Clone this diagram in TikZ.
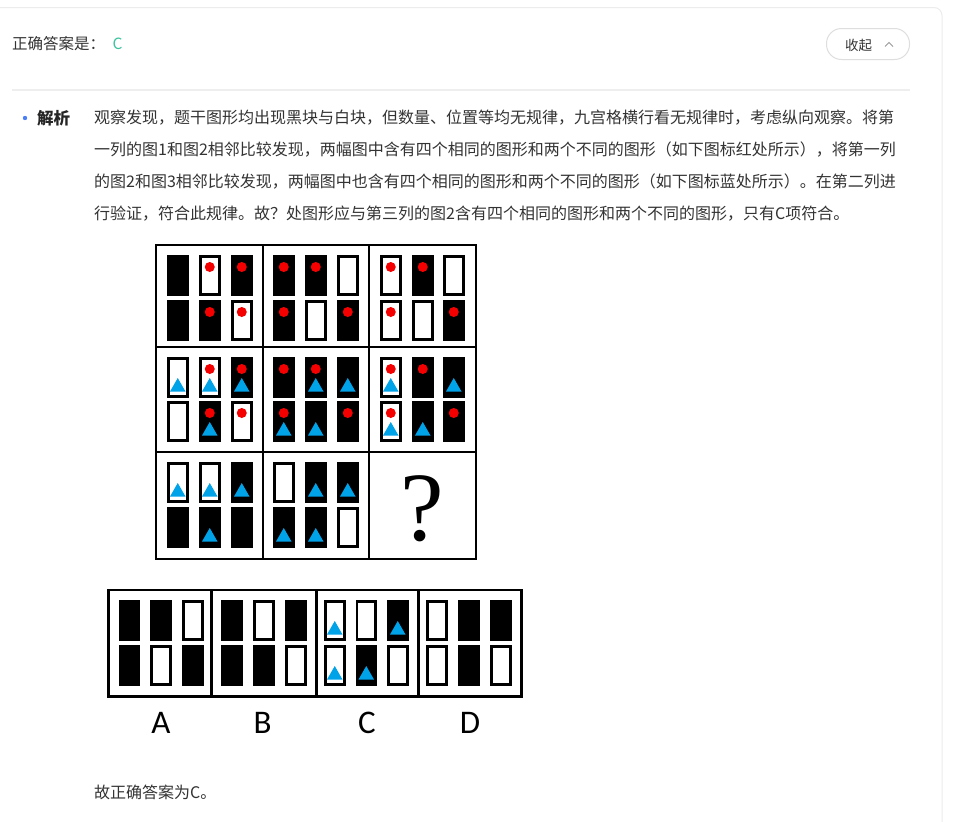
\documentclass[tikz,border=0pt]{standalone}
\usepackage{fontspec}
\newfontfamily\cjk{Noto Sans CJK SC}
\newfontfamily\calfont{Carlito}
\newfontfamily\qfont{Liberation Serif}
\definecolor{txt}{HTML}{333333}
\definecolor{ansgreen}{HTML}{3CC39E}
\definecolor{bulletblue}{HTML}{4B7FF5}
\definecolor{triblue}{HTML}{00A2E8}
\definecolor{dotred}{HTML}{F50000}
\definecolor{cardgray}{HTML}{ECECEC}
\definecolor{sepgray}{HTML}{EEEEEE}
\definecolor{pillgray}{HTML}{DEDEDE}
\makeatletter
\def\sp@read#1{\ifx\relax#1\else\hskip0pt plus 1fil\relax#1\expandafter\sp@read\fi}
\def\sp@readfirst#1{#1\sp@read}
\newcommand\jline[2]{\hbox to #1{\sp@readfirst#2\relax}}
\makeatother
\newcommand\bkr[2]{\fill[bkbox] (#1,#2) rectangle ++(21.5,40.5);}
\newcommand\wtr[2]{\draw[wtbox] (#1+1.3,#2+1.3) rectangle ++(18.9,37.9);}
\newcommand\rdot[2]{\fill[reddot] (#1+10.75,#2+12) circle (5pt);}
\newcommand\btri[2]{\fill[bluetri] (#1+3,#2+34.5) -- ++(15.5,0) -- ++(-7.75,-13.5) -- cycle;}
\begin{document}
\begin{tikzpicture}[x=1pt,y=-1pt,
  bkbox/.style={fill=black},
  wtbox/.style={draw=black,line width=2.6pt,fill=white},
  reddot/.style={fill=dotred},
  bluetri/.style={fill=triblue},
  gridline/.style={line width=2.8pt,line cap=rect},
  body/.style={anchor=west,inner sep=0pt,text=txt,font=\cjk\fontsize{16}{16}\selectfont},
  label/.style={anchor=base,inner sep=0pt,font=\calfont\fontsize{33}{33}\selectfont}]
\useasboundingbox[fill=white] (0,0) rectangle (956,822);
% card outline
\draw[cardgray,line width=1pt,rounded corners=8pt] (0,7.5) -- (942,7.5) -- (942,822);
% header
\node[anchor=west,inner sep=0pt,text=txt,font=\cjk\fontsize{15.5}{15.5}\selectfont] (hdr) at (12,44) {正确答案是：};
\node[anchor=west,inner sep=0pt,text=ansgreen,font=\cjk\fontsize{15.5}{15.5}\selectfont] (ans) at (112.5,44) {C};
\draw[pillgray,line width=1pt,rounded corners=15pt] (826.5,28.5) rectangle (909.5,59.5);
\node[inner sep=0pt,text=txt,font=\cjk\fontsize{13.5}{13.5}\selectfont] (btn) at (858.5,45) {收起};
\draw[gray!80,line width=0.9pt] (885,46.5) -- (889,42.5) -- (893,46.5);
\draw[sepgray,line width=2pt] (12,90) -- (910,90);
% analysis text
\fill[bulletblue] (25,118) circle (2.2pt);
\node[anchor=west,inner sep=0pt,text=black!85,font=\cjk\fontsize{16.5}{16.5}\selectfont\bfseries] (jx) at (37,118) {解析};
\node[body] (l1) at (94,118) {\jline{799pt}{观察发现，题干图形均出现黑块与白块，但数量、位置等均无规律，九宫格横行看无规律时，考虑纵向观察。将第}};
\node[body] (l2) at (94,150) {\jline{799pt}{一列的图1和图2相邻比较发现，两幅图中含有四个相同的图形和两个不同的图形（如下图标红处所示），将第一列}};
\node[body] (l3) at (94,182) {\jline{799pt}{的图2和图3相邻比较发现，两幅图中也含有四个相同的图形和两个不同的图形（如下图标蓝处所示）。在第二列进}};
\node[body] (l4) at (94,214) {行验证，符合此规律。故？处图形应与第三列的图2含有四个相同的图形和两个不同的图形，只有C项符合。};
\node[body] (fin) at (94,792) {故正确答案为C。};
% ===== 3x3 grid =====
% row 1
\bkr{167}{255}
\wtr{199}{255}\rdot{199}{255}
\bkr{231}{255}\rdot{231}{255}
\bkr{167}{300}
\bkr{199}{300}\rdot{199}{300}
\wtr{231}{300}\rdot{231}{300}
\bkr{273}{255}\rdot{273}{255}
\bkr{305}{255}\rdot{305}{255}
\wtr{337}{255}
\bkr{273}{300}\rdot{273}{300}
\wtr{305}{300}
\bkr{337}{300}\rdot{337}{300}
\wtr{380}{255}\rdot{380}{255}
\bkr{412}{255}\rdot{412}{255}
\wtr{443}{255}
\wtr{380}{300}\rdot{380}{300}
\wtr{412}{300}
\bkr{443}{300}\rdot{443}{300}
% row 2
\wtr{167}{357}\btri{167}{357}
\wtr{199}{357}\rdot{199}{357}\btri{199}{357}
\bkr{231}{357}\rdot{231}{357}\btri{231}{357}
\wtr{167}{401}
\bkr{199}{401}\rdot{199}{401}\btri{199}{401}
\wtr{231}{401}\rdot{231}{401}
\bkr{273}{357}\rdot{273}{357}
\bkr{305}{357}\rdot{305}{357}\btri{305}{357}
\bkr{337}{357}\btri{337}{357}
\bkr{273}{401}\rdot{273}{401}\btri{273}{401}
\bkr{305}{401}\btri{305}{401}
\bkr{337}{401}\rdot{337}{401}
\wtr{380}{357}\rdot{380}{357}\btri{380}{357}
\bkr{412}{357}\rdot{412}{357}
\bkr{443}{357}\btri{443}{357}
\wtr{380}{401}\rdot{380}{401}\btri{380}{401}
\bkr{412}{401}\btri{412}{401}
\bkr{443}{401}\rdot{443}{401}
% row 3
\wtr{167}{462}\btri{167}{462}
\wtr{199}{462}\btri{199}{462}
\bkr{231}{462}\btri{231}{462}
\bkr{167}{507}
\bkr{199}{507}\btri{199}{507}
\bkr{231}{507}
\wtr{273}{462}
\bkr{305}{462}\btri{305}{462}
\bkr{337}{462}\btri{337}{462}
\bkr{273}{507}\btri{273}{507}
\bkr{305}{507}\btri{305}{507}
\wtr{337}{507}
\node[anchor=base,inner sep=0pt,font=\qfont\fontsize{98}{98}\selectfont] (q) at (422.5,540) {?};
\draw[gridline] (156,245) rectangle (476,559);
\draw[gridline] (263,245) -- (263,559) (369,245) -- (369,559)
                (156,347) -- (476,347) (156,452) -- (476,452);
% ===== options =====
\bkr{118.5}{600} \bkr{150}{600} \wtr{182}{600}
\bkr{118.5}{645} \wtr{150}{645} \bkr{182}{645}
\bkr{221}{600} \wtr{253}{600} \bkr{285}{600}
\bkr{221}{645} \bkr{253}{645} \wtr{285}{645}
\wtr{324}{600}\btri{324}{600} \wtr{355.5}{600} \bkr{387}{600}\btri{387}{600}
\wtr{324}{645}\btri{324}{645} \bkr{355.5}{645}\btri{355.5}{645} \wtr{387}{645}
\wtr{426}{600} \bkr{458}{600} \bkr{490}{600}
\wtr{426}{645} \bkr{458}{645} \wtr{490}{645}
\draw[gridline] (108.5,590) rectangle (521.5,696.5);
\draw[gridline] (211.7,590) -- (211.7,696.5) (316.7,590) -- (316.7,696.5) (418.3,590) -- (418.3,696.5);
\node[label] (la) at (161,733) {A};
\node[label] (lb) at (262.7,733) {B};
\node[label] (lc) at (367,733) {C};
\node[label] (ld) at (470,733) {D};
\end{tikzpicture}
\end{document}
